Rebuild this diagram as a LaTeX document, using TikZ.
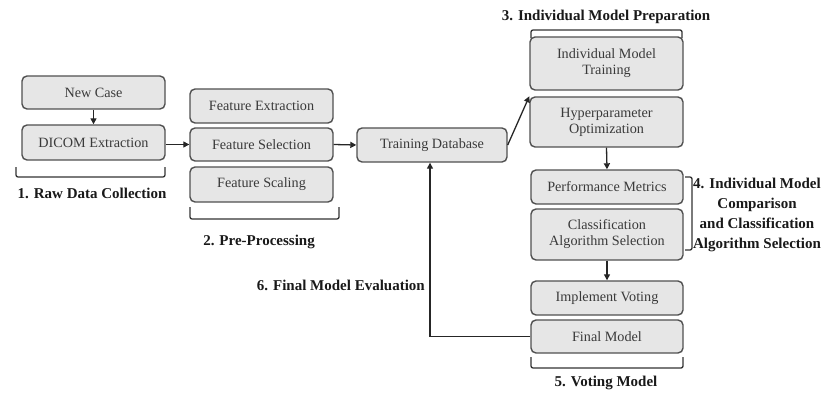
\documentclass[tikz,border=0pt]{standalone}
\usepackage{fontspec}
\setmainfont{Liberation Serif}
\usetikzlibrary{arrows.meta}
\definecolor{boxfill}{HTML}{E6E6E6}
\definecolor{boxline}{HTML}{505050}
\definecolor{boxtext}{HTML}{3A3A3A}
\tikzset{
  stepbox/.style={draw=boxline, line width=1.4pt, fill=boxfill, rounded corners=5pt,
    text=boxtext, align=center, inner sep=0pt,
    font=\fontsize{14.2}{16}\selectfont},
  flow/.style={draw=black!85, line width=1.3pt, -{Triangle[length=6pt,width=6pt]}},
  brace/.style={draw=black!80, line width=1.3pt, rounded corners=2pt},
  phase/.style={text=black!90, align=center, inner sep=0pt,
    font=\fontsize{15}{20}\selectfont\bfseries}
}
\begin{document}
\begin{tikzpicture}[x=1pt,y=-1pt]
\useasboundingbox (0,0) rectangle (827,393);

% stage 1: raw data
\node[stepbox, minimum width=143pt, minimum height=33pt] (newcase) at (93.5,92.5) {New Case};
\node[stepbox, minimum width=143pt, minimum height=35pt] (dicom) at (93.5,142.5) {DICOM Extraction};

% stage 2: pre-processing
\node[stepbox, minimum width=143pt, minimum height=34pt] (fext) at (261.5,106) {Feature Extraction};
\node[stepbox, minimum width=143pt, minimum height=33pt] (fsel) at (261.5,144.5) {Feature Selection};
\node[stepbox, minimum width=143pt, minimum height=35pt] (fscal) at (261.5,184.5) {Feature Scaling};

% training database
\node[stepbox, minimum width=150pt, minimum height=34pt] (tdb) at (432,145) {Training Database};

% stage 3: individual models
\node[stepbox, minimum width=153pt, minimum height=53pt] (imt) at (606.5,63.5) {Individual Model\\Training};
\node[stepbox, minimum width=153pt, minimum height=50pt] (hyp) at (606.5,122) {Hyperparameter\\Optimization};

% stage 4: comparison
\node[stepbox, minimum width=152pt, minimum height=34pt] (perf) at (607,187) {Performance Metrics};
\node[stepbox, minimum width=152pt, minimum height=51pt] (cls) at (607,234.5) {Classification\\Algorithm Selection};

% stage 5: voting
\node[stepbox, minimum width=152pt, minimum height=34pt] (vote) at (607,298) {Implement Voting};
\node[stepbox, minimum width=152pt, minimum height=33pt] (final) at (607,336.5) {Final Model};

% connectors
\draw[flow] (newcase.south) -- (dicom.north);
\draw[flow] (dicom.east |- fsel.west) -- (fsel.west);
\draw[flow] (fsel.east) -- (tdb.west);
\draw[flow] (tdb.east) -- (hyp.north west);
\draw[flow] (hyp.south) -- (perf.north);
\draw[flow] (cls.south) -- (vote.north);
\coordinate (bend) at (430,336.5);
\draw[flow] (final.west) -- (bend) -- (bend |- tdb.south);

% brackets grouping each stage
\draw[brace] (16,167) -- (16,177) -- (165,177) -- (165,167);
\draw[brace] (190,207) -- (190,219) -- (339,219) -- (339,207);
\draw[brace] (531,38) -- (531,30) -- (682,30) -- (682,38);
\draw[brace] (685,177) -- (692,177) -- (692,250) -- (685,250);
\draw[brace] (531,357) -- (531,368) -- (683,368) -- (683,357);

% stage labels
\node[phase] (l1) at (92,193) {1. Raw Data Collection};
\node[phase] (l2) at (259,242) {2. Pre-Processing};
\node[phase] (l3) at (606,17) {3. Individual Model Preparation};
\node[phase] (l4) at (757,215) {4. Individual Model\\Comparison\\and Classification\\Algorithm Selection};
\node[phase] (l5) at (606,383) {5. Voting Model};
\node[phase, anchor=east] (l6) at (425,285) {6. Final Model Evaluation};
\end{tikzpicture}
\end{document}
